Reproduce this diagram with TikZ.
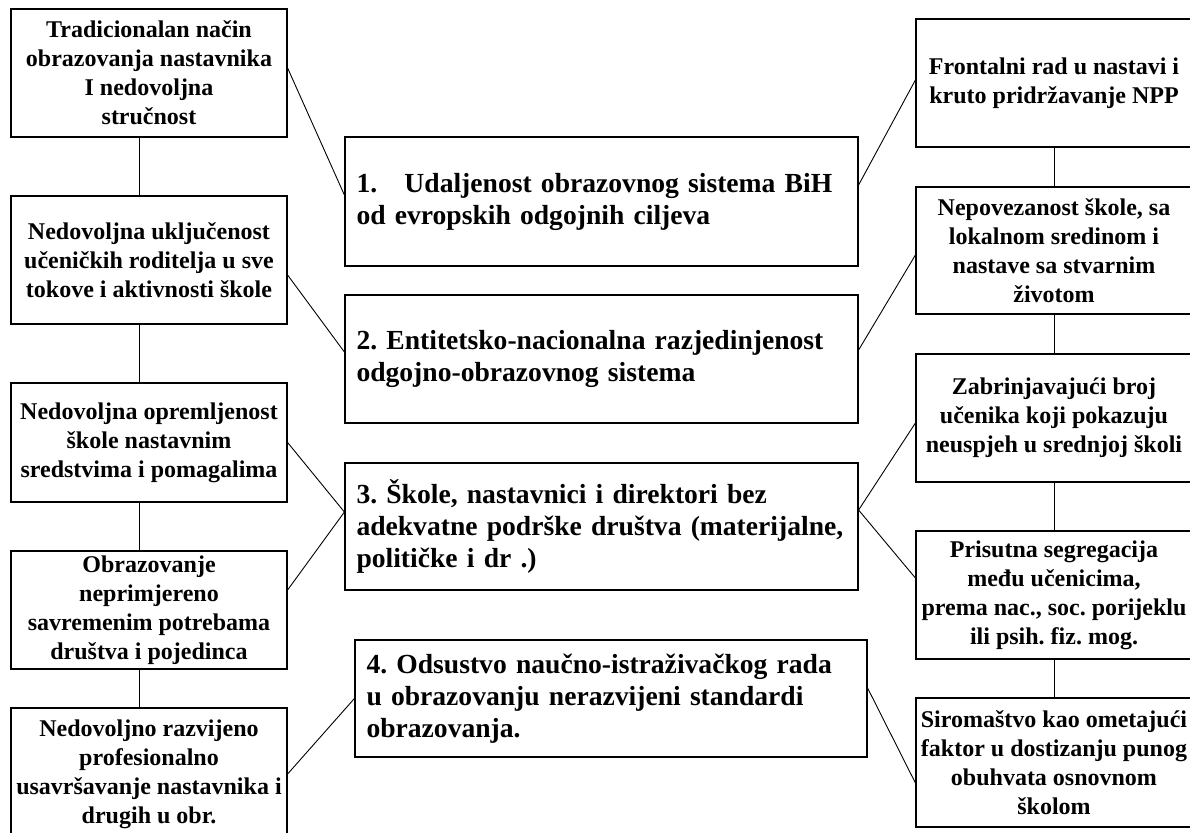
\documentclass[tikz,border=0pt]{standalone}
\usepackage{fontspec}
\setmainfont{Liberation Serif}
\frenchspacing
\tikzset{
  sidebox/.style={draw, line width=0.6pt, align=center, minimum width=138pt, inner sep=0pt,
    font=\fontsize{12}{14.5}\selectfont\bfseries},
  mainbox/.style={draw, line width=0.6pt, align=left, text width=245pt, inner xsep=5.75pt,
    inner ysep=0pt, font=\fontsize{13.8}{16}\selectfont\bfseries},
  link/.style={line width=0.45pt}
}

\begin{document}
\begin{tikzpicture}[x=0.5pt, y=-0.5pt]
  \useasboundingbox (0,0) rectangle (1190,832);
  \node[sidebox, minimum height=64pt] (L1) at (149,73) {Tradicionalan način\\obrazovanja nastavnika\\I nedovoljna\\stručnost};
  \node[sidebox, minimum height=64pt] (L2) at (149,260) {Nedovoljna uključenost\\učeničkih roditelja u sve\\tokove i aktivnosti škole};
  \node[sidebox, minimum height=59.5pt] (L3) at (149,442.5) {Nedovoljna opremljenost\\škole nastavnim\\sredstvima i pomagalima};
  \node[sidebox, minimum height=59pt] (L4) at (149,610) {Obrazovanje\\neprimjereno\\savremenim potrebama\\društva i pojedinca};
  \node[sidebox, minimum height=66pt] (L5) at (149,774) {Nedovoljno razvijeno\\profesionalno\\usavršavanje nastavnika i\\drugih u obr.};

  \node[mainbox, minimum height=64.5pt] (C1) at (601.5,201.5) {\makebox[24pt][l]{1.}Udaljenost obrazovnog sistema BiH\\od evropskih odgojnih ciljeva};
  \node[mainbox, minimum height=64pt] (C2) at (601.5,359) {2. Entitetsko-nacionalna razjedinjenost\\odgojno-obrazovnog sistema};
  \node[mainbox, minimum height=63.5pt] (C3) at (601.5,526.5) {3. Škole, nastavnici i direktori bez\\adekvatne podrške društva (materijalne,\\političke i dr .)};
  \node[mainbox, minimum height=58.5pt, text width=244.5pt] (C4) at (611,698.5) {4. Odsustvo naučno-istraživačkog rada\\u obrazovanju nerazvijeni standardi\\obrazovanja.};

  \node[sidebox, minimum height=64pt] (R1) at (1054,83) {Frontalni rad u nastavi i\\kruto pridržavanje NPP};
  \node[sidebox, minimum height=63.5pt] (R2) at (1054,250.5) {Nepovezanost škole, sa\\lokalnom sredinom i\\nastave sa stvarnim\\životom};
  \node[sidebox, minimum height=64pt] (R3) at (1054,418) {Zabrinjavajući broj\\učenika koji pokazuju\\neuspjeh u srednjoj školi};
  \node[sidebox, minimum height=64pt] (R4) at (1054,595) {Prisutna segregacija\\među učenicima,\\prema nac., soc. porijeklu\\ili psih. fiz. mog.};
  \node[sidebox, minimum height=64.5pt] (R5) at (1054,762.5) {Siromaštvo kao ometajući\\faktor u dostizanju punog\\obuhvata osnovnom\\školom};

  \foreach \a/\b in {L1/L2,L2/L3,L3/L4,L4/L5}
    \draw[link] ([xshift=-5pt]\a.south) -- ([xshift=-5pt]\b.north);
  \foreach \a/\b in {R1/R2,R2/R3,R3/R4,R4/R5}
    \draw[link] (\a.south) -- (\b.north);

  \draw[link] ([yshift=2.5pt]L1.east) -- ([yshift=3.25pt]C1.west);
  \draw[link] ([yshift=-7.5pt]L2.east) -- ([yshift=3.5pt]C2.west);
  \draw[link] (L3.east) -- ([yshift=7.25pt]C3.west);
  \draw[link] ([yshift=10pt]L4.east) -- ([yshift=7.25pt]C3.west);
  \draw[link] (L5.east) -- (C4.west);

  \draw[link] ([yshift=8.25pt]C1.east) -- ([yshift=1.5pt]R1.west);
  \draw[link] ([yshift=4.5pt]C2.east) -- ([yshift=-2.25pt]R2.west);
  \draw[link] ([yshift=8.25pt]C3.east) -- ([yshift=-2.5pt]R3.west);
  \draw[link] ([yshift=8.25pt]C3.east) -- ([yshift=8.5pt]R4.west);
  \draw[link] ([yshift=5.25pt]C4.east) -- ([yshift=-10.25pt]R5.west);
\end{tikzpicture}
\end{document}
